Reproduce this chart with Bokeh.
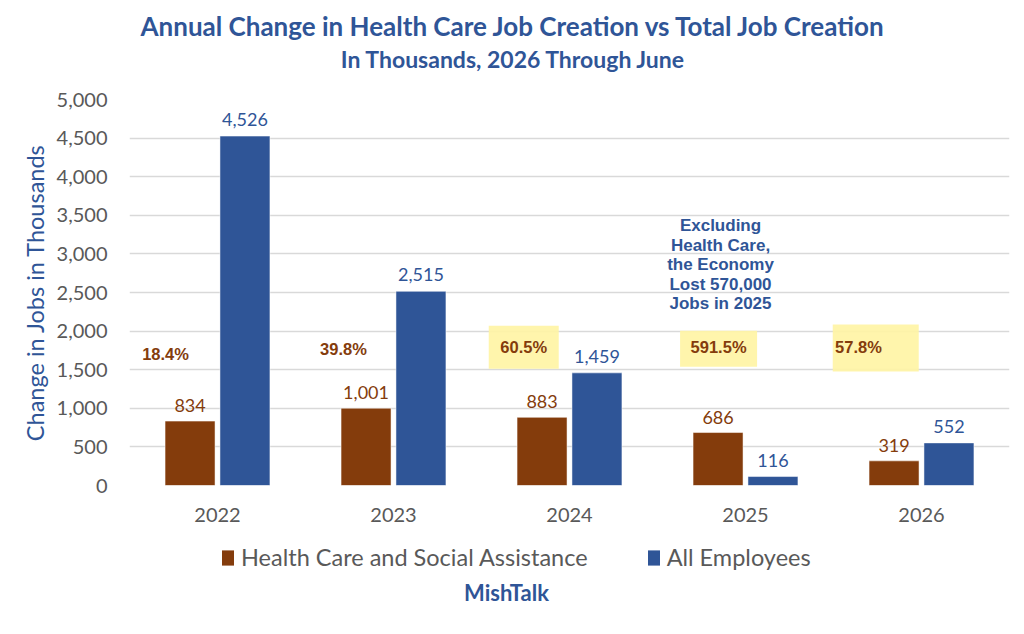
from bokeh.plotting import figure
from bokeh.layouts import column
from bokeh.models import (ColumnDataSource, Legend, LegendItem, NumeralTickFormatter,
                          FixedTicker)
from bokeh.transform import dodge
from bokeh.core.properties import value
from bokeh.embed import file_html
from bokeh.resources import INLINE

# ---- data ----
years = ["2022", "2023", "2024", "2025", "2026"]
health_care = [834, 1001, 883, 686, 319]
all_employees = [4526, 2515, 1459, 116, 552]
hc_share = ["18.4%", "39.8%", "60.5%", "591.5%", "57.8%"]
highlighted = [False, False, True, True, True]
y_ticks = [0, 500, 1000, 1500, 2000, 2500, 3000, 3500, 4000, 4500, 5000]
note_lines = ["Excluding", "Health Care,", "the Economy", "Lost 570,000", "Jobs in 2025"]
series_names = ["Health Care and Social Assistance", "All Employees"]
title_text = "Annual Change in Health Care Job Creation vs Total Job Creation"
subtitle_text = "In Thousands, 2026 Through June"
source_text = "MishTalk"

# ---- layout (positions only) ----
pct_dx = [-0.295, -0.284, -0.26, -0.153, -0.358]
pct_y = [1697, 1762, 1788, 1788, 1800]
hl_dx = [0, 0, -0.26, -0.153, -0.26]
hl_y = [0, 0, 1790, 1770, 1780]
hl_w = [0, 0, 70, 77, 86]
hl_h = [0, 0, 43, 36, 47]

ORANGE = "#843C0C"
BLUE = "#2F5597"
GRAY = "#595959"
CAL = "Lato"
ARIAL = "Liberation Sans"
W = 1016
FL, FR = 129, 1009   # frame left / right (shared by the stacked figures)


def blank(height):
    f = figure(width=W, height=height, x_range=(FL, FR), y_range=(0, height),
               output_backend="svg", toolbar_location=None,
               min_border=0, min_border_left=FL, min_border_right=W - FR,
               min_border_top=0, min_border_bottom=0)
    f.axis.visible = False
    f.grid.visible = False
    f.outline_line_color = None
    f.background_fill_color = "white"
    f.border_fill_color = "white"
    return f


# ---- header ----
TOP_H = 85
p0 = blank(TOP_H)
p0.text(x=[513], y=[TOP_H - 25], text=[title_text], text_align="center",
        text_baseline="middle", text_font=value(CAL), text_font_style="bold",
        text_font_size="26px", text_color=BLUE)
p0.text(x=[513], y=[TOP_H - 58], text=[subtitle_text], text_align="center",
        text_baseline="middle", text_font=value(CAL), text_font_style="bold",
        text_font_size="23px", text_color=BLUE)

# ---- main chart ----
src = ColumnDataSource(dict(
    year=years, hc=health_care, ae=all_employees,
    hc_lbl=[f"{v:,}" for v in health_care],
    ae_lbl=[f"{v:,}" for v in all_employees],
))

p = figure(x_range=years, y_range=(0, 5000), width=W, height=447,
           output_backend="svg", toolbar_location=None,
           min_border_left=FL, min_border_right=W - FR, min_border_top=14, min_border_bottom=47)
p.x_range.range_padding = 0
p.outline_line_color = None
p.background_fill_color = "white"
p.border_fill_color = "white"

for i, (yr, h) in enumerate(zip(years, highlighted)):
    if h:
        p.rect(x=dodge("year", hl_dx[i], range=p.x_range), y="y", width="w", height="hh",
               width_units="screen", height_units="screen",
               source=ColumnDataSource(dict(year=[yr], y=[hl_y[i]], w=[hl_w[i]], hh=[hl_h[i]])),
               fill_color="#FFF4A3", line_color=None, fill_alpha=0.9)

p.vbar(x=dodge("year", -0.156, range=p.x_range), top="hc", width=0.284, source=src,
       fill_color=ORANGE, line_color="white", line_width=0.5)
p.vbar(x=dodge("year", 0.156, range=p.x_range), top="ae", width=0.284, source=src,
       fill_color=BLUE, line_color="white", line_width=0.5)

p.text(x=dodge("year", -0.156, range=p.x_range), y="hc", text="hc_lbl", source=src,
       text_align="center", text_baseline="bottom", y_offset=-9,
       text_font=value(CAL), text_font_size="18px", text_color=ORANGE)
p.text(x=dodge("year", 0.156, range=p.x_range), y="ae", text="ae_lbl", source=src,
       text_align="center", text_baseline="bottom", y_offset=-10,
       text_font=value(CAL), text_font_size="18px", text_color=BLUE)

for i, yr in enumerate(years):
    p.text(x=dodge("year", pct_dx[i], range=p.x_range), y="y", text="t",
           source=ColumnDataSource(dict(year=[yr], y=[pct_y[i]], t=[hc_share[i]])),
           text_align="center", text_baseline="middle",
           text_font=value(ARIAL), text_font_style="bold", text_font_size="16.5px",
           text_color=ORANGE)

note_src = ColumnDataSource(dict(
    year=["2025"] * len(note_lines),
    y=[3368 - k * 254 for k in range(len(note_lines))],
    t=note_lines))
p.text(x=dodge("year", -0.142, range=p.x_range), y="y", text="t", source=note_src,
       text_align="center", text_baseline="middle",
       text_font=value(ARIAL), text_font_style="bold", text_font_size="17px", text_color=BLUE)

p.yaxis.ticker = FixedTicker(ticks=y_ticks)
p.yaxis.formatter = NumeralTickFormatter(format="0,0")
p.yaxis.axis_line_color = None
p.yaxis.major_tick_line_color = None
p.yaxis.minor_tick_line_color = None
p.yaxis.major_label_text_font = CAL
p.yaxis.major_label_text_font_size = "20px"
p.yaxis.major_label_text_color = GRAY
p.yaxis.major_label_standoff = 16
p.yaxis.axis_label = "Change in Jobs in Thousands"
p.yaxis.axis_label_text_font = CAL
p.yaxis.axis_label_text_font_style = "normal"
p.yaxis.axis_label_text_font_size = "23.5px"
p.yaxis.axis_label_text_color = BLUE
p.yaxis.axis_label_standoff = 5

p.xaxis.axis_line_color = None
p.xaxis.major_tick_line_color = None
p.xaxis.major_label_text_font = CAL
p.xaxis.major_label_text_font_size = "20px"
p.xaxis.major_label_text_color = GRAY
p.xaxis.major_label_standoff = 16

p.xgrid.grid_line_color = None
p.ygrid.grid_line_color = "#D9D9D9"
p.ygrid.grid_line_width = 1.3

# ---- footer: legend + source ----
BOT_H = 94
p2 = blank(BOT_H)
k1 = p2.vbar(x=[-5000], top=[0], width=1, fill_color=ORANGE, line_color=None)
k2 = p2.vbar(x=[-5000], top=[0], width=1, fill_color=BLUE, line_color=None)
legend = Legend(items=[LegendItem(label=series_names[0], renderers=[k1]),
                       LegendItem(label=series_names[1], renderers=[k2])],
                location=(220 - FL, 55), orientation="horizontal", glyph_width=15, glyph_height=19,
                label_text_font=CAL, label_text_font_size="23.5px", label_text_color=GRAY,
                label_standoff=6, border_line_color=None, background_fill_alpha=0,
                padding=0, margin=0, spacing=58)
p2.add_layout(legend, "center")
p2.text(x=[506], y=[BOT_H - 60], text=[source_text], text_align="center",
        text_baseline="middle", text_font=value(CAL), text_font_style="bold",
        text_font_size="22px", text_color=BLUE)

open("out.html", "w").write(file_html(column(p0, p, p2, spacing=0), INLINE))
